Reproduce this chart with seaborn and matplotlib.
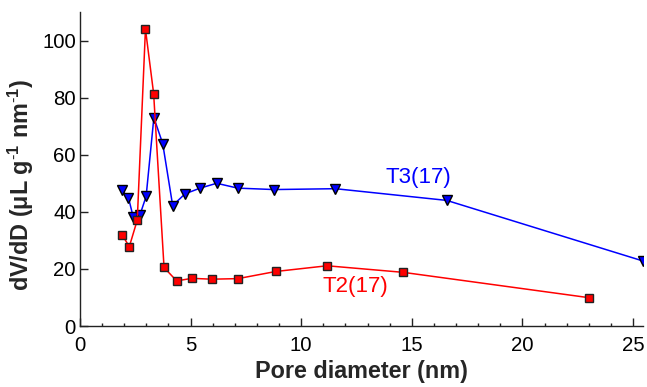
import matplotlib
matplotlib.use("Agg")
import matplotlib.pyplot as plt
import seaborn as sns
import numpy as np
import pandas as pd
from matplotlib.ticker import MultipleLocator

# Data
t2_x = [1.91, 2.23, 2.59, 2.96, 3.33, 3.80, 4.37, 5.06, 5.96, 7.14, 8.85, 11.17, 14.61, 23.03]
t2_y = [31.9, 27.8, 37.1, 104.0, 81.4, 20.5, 15.8, 16.7, 16.4, 16.6, 19.1, 21.1, 18.8, 9.9]
t3_x = [1.88, 2.19, 2.41, 2.71, 2.99, 3.34, 3.74, 4.19, 4.75, 5.43, 6.18, 7.13, 8.77, 11.55, 16.58, 25.44]
t3_y = [47.7, 45.0, 38.1, 38.9, 45.4, 73.0, 63.9, 42.2, 46.3, 48.3, 50.0, 48.3, 47.8, 48.1, 44.0, 22.8]
series_labels = ["T2(17)", "T3(17)"]

sns.set_style("ticks")
plt.rcParams['font.family'] = ['Liberation Sans', 'DejaVu Sans']
plt.rcParams['mathtext.fontset'] = 'custom'
plt.rcParams['mathtext.rm'] = 'Liberation Sans'
plt.rcParams['mathtext.bf'] = 'Liberation Sans:bold'

fig, ax = plt.subplots(figsize=(6.47, 3.87), dpi=100)
fig.subplots_adjust(left=0.1236, right=0.9938, bottom=0.1576, top=0.969)

df2 = pd.DataFrame({"x": t2_x, "y": t2_y})
df3 = pd.DataFrame({"x": t3_x, "y": t3_y})

sns.lineplot(data=df3, x="x", y="y", ax=ax, sort=False, color="#0000ff", lw=1.1,
             marker="v", markersize=6.5, markerfacecolor="#0000ff",
             markeredgecolor="black", markeredgewidth=1.0, zorder=3)
sns.lineplot(data=df2, x="x", y="y", ax=ax, sort=False, color="#ff0000", lw=1.1,
             marker="s", markersize=5.5, markerfacecolor="#ff0000",
             markeredgecolor="#222222", markeredgewidth=1.0, zorder=4)

ax.set_xlim(0, 25.45)
ax.set_ylim(0, 110)
ax.xaxis.set_major_locator(MultipleLocator(5))
ax.xaxis.set_minor_locator(MultipleLocator(1))
ax.yaxis.set_major_locator(MultipleLocator(20))

ax.tick_params(axis='both', which='major', direction='in', length=5.5, width=1,
               labelsize=14.7, colors='#222222', labelcolor='black')
ax.tick_params(axis='x', which='major', pad=7)
ax.tick_params(axis='y', which='major', pad=3)
ax.tick_params(axis='x', which='minor', direction='in', length=2.5, width=1, colors='#222222')

for s in ['top', 'right']:
    ax.spines[s].set_visible(False)
for s in ['left', 'bottom']:
    ax.spines[s].set_color('#222222')
    ax.spines[s].set_linewidth(1.0)

ax.set_xlabel("Pore diameter (nm)", fontsize=16.8, fontweight='bold', labelpad=4)
ax.set_ylabel(r"dV/dD (μL g$^{\mathbf{\text{-}1}}$ nm$^{\mathbf{\text{-}1}}$)", fontsize=16.8,
              fontweight='bold')
ax.yaxis.set_label_coords(-0.078, 0.45)

ax.text(15.3, 52.0, series_labels[1], color="#0000ff", fontsize=16, ha='center', va='center')
ax.text(12.45, 13.7, series_labels[0], color="#ff0000", fontsize=16, ha='center', va='center')

fig.savefig("out.png", dpi=100)
